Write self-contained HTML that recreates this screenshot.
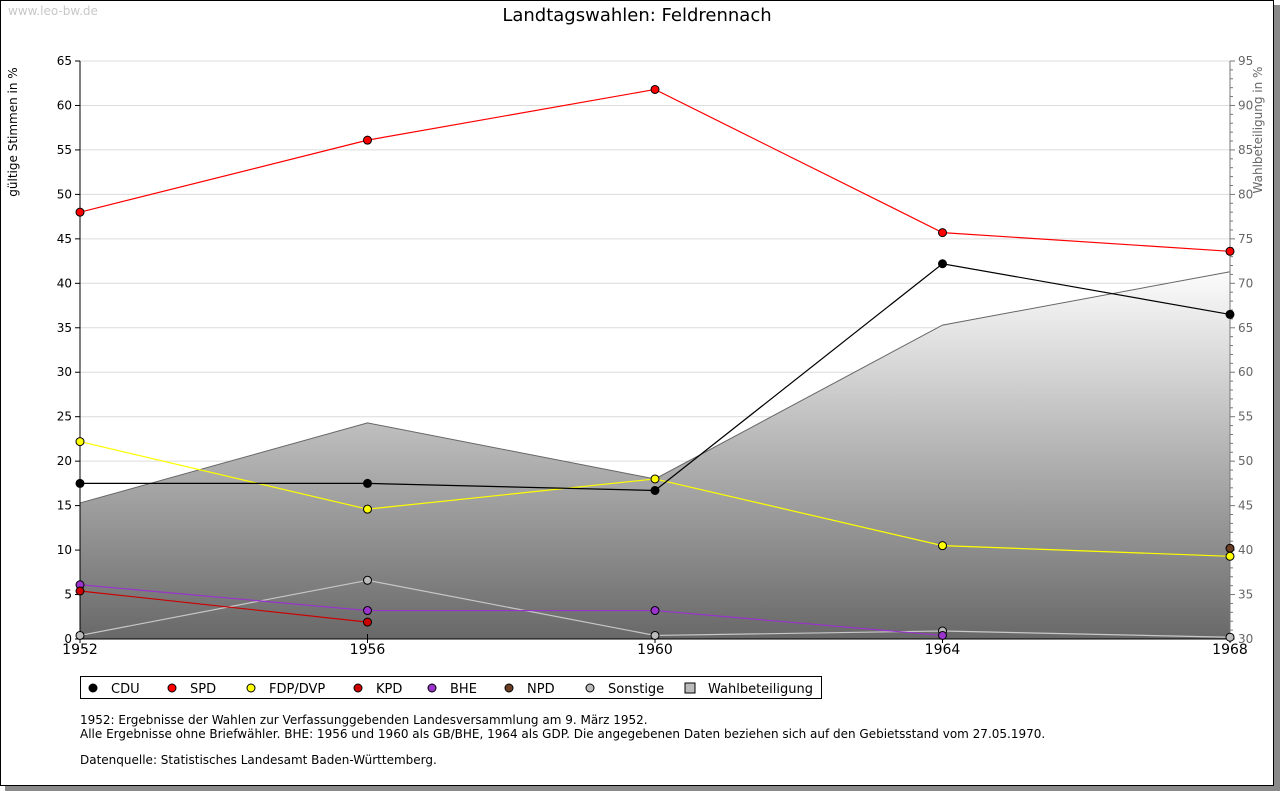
<!DOCTYPE html>
<html><head><meta charset="utf-8">
<style>
body{margin:0;background:#fff;font-family:"Liberation Sans","DejaVu Sans",sans-serif;}
#wrap{position:relative;width:1280px;height:791px;overflow:hidden;}
</style></head>
<body>
<div id="wrap">
<svg id="chart" width="1280" height="791" xmlns="http://www.w3.org/2000/svg" font-family="DejaVu Sans, Liberation Sans, sans-serif">
<defs>
<linearGradient id="turnGrad" gradientUnits="userSpaceOnUse" x1="0" y1="265" x2="0" y2="639">
<stop offset="0" stop-color="#ffffff"/><stop offset="1" stop-color="#686868"/>
</linearGradient>
</defs>
<rect x="5" y="5" width="1275" height="786" fill="#8a8a8a"/>
<rect x="0.5" y="0.5" width="1273" height="785" fill="#fff" stroke="#000"/>
<text x="8" y="15" font-size="12" fill="#c8c8c8">www.leo-bw.de</text>
<text x="637" y="21" font-size="18" text-anchor="middle" fill="#000">Landtagswahlen: Feldrennach</text>
<text transform="translate(17,132) rotate(-90)" font-size="12" text-anchor="middle" fill="#000">gültige Stimmen in %</text>
<text transform="translate(1262,130) rotate(-90)" font-size="12" text-anchor="middle" fill="#666">Wahlbeteiligung in %</text>
<g id="grid"></g>
<g id="area"></g>
<g id="axes"></g>
<g id="series"></g>
<g id="legend"></g>
<text x="80" y="724" font-size="12" fill="#000">1952: Ergebnisse der Wahlen zur Verfassunggebenden Landesversammlung am 9. März 1952.</text>
<text x="80" y="738" font-size="12" fill="#000">Alle Ergebnisse ohne Briefwähler. BHE: 1956 und 1960 als GB/BHE, 1964 als GDP. Die angegebenen Daten beziehen sich auf den Gebietsstand vom 27.05.1970.</text>
<text x="80" y="764" font-size="12" fill="#000">Datenquelle: Statistisches Landesamt Baden-Württemberg.</text>
</svg>
</div>
<script>
const years=[1952,1956,1960,1964,1968];
const leftTicks=[0,5,10,15,20,25,30,35,40,45,50,55,60,65];
const rightTicks=[30,35,40,45,50,55,60,65,70,75,80,85,90,95];
const cdu=[17.5,17.5,16.7,42.2,36.5];
const spd=[48.0,56.1,61.8,45.7,43.6];
const fdp=[22.2,14.6,18.0,10.5,9.3];
const kpd=[5.4,1.9,null,null,null];
const bhe=[6.1,3.2,3.2,0.4,null];
const npd=[null,null,null,null,10.2];
const sonstige=[0.4,6.6,0.4,0.9,0.2];
const turnout=[45.3,54.3,48.0,65.3,71.3];
const legendLabels=["CDU","SPD","FDP/DVP","KPD","BHE","NPD","Sonstige","Wahlbeteiligung"];

const NS="http://www.w3.org/2000/svg";
const X0=80,X1=1230,Y0=639,Y1=61;
const xs=y=>X0+(y-1952)/(1968-1952)*(X1-X0);
const yl=v=>Y0-v/65*(Y0-Y1);
const yr=v=>Y0-(v-30)/65*(Y0-Y1);
function mk(tag,attrs,parent){const e=document.createElementNS(NS,tag);for(const k in attrs)e.setAttribute(k,attrs[k]);parent.appendChild(e);return e;}
const grid=document.getElementById('grid'),axes=document.getElementById('axes'),area=document.getElementById('area'),ser=document.getElementById('series'),leg=document.getElementById('legend');

leftTicks.forEach(t=>{
  const y=yl(t);
  if(t>0){const g=mk('line',{x1:X0,x2:X1,y1:y,y2:y,stroke:'#dcdcdc'},grid);
  
  }
  mk('line',{x1:X0-5,x2:X0,y1:y,y2:y,stroke:'#000'},axes);
  const tx=mk('text',{x:X0-8,y:y+4,'font-size':12,'text-anchor':'end',fill:'#000'},axes);
  tx.textContent=t;
  
  
});
for(let v=30;v<=95;v++){const y=yr(v);mk('line',{x1:X1,x2:X1+(v%5?3:5),y1:y,y2:y,stroke:'#777'},axes);}
rightTicks.forEach(t=>{
  const tx=mk('text',{x:X1+8,y:yr(t)+4,'font-size':12,fill:'#666'},axes);
  tx.textContent=t;
  
  
});
// turnout area
let d='M'+xs(years[0])+','+Y0;
years.forEach((yy,i)=>{d+=' L'+xs(yy)+','+yr(turnout[i]);});
d+=' L'+xs(years[years.length-1])+','+Y0+' Z';
const ap=mk('path',{d:d,fill:'url(#turnGrad)'},area);


const al=mk('polyline',{points:years.map((yy,i)=>xs(yy)+','+yr(turnout[i])).join(' '),fill:'none',stroke:'#666'},area);



mk('line',{x1:X0,x2:X0,y1:Y1,y2:Y0,stroke:'#000'},axes);
mk('line',{x1:X1,x2:X1,y1:Y1,y2:Y0,stroke:'#777'},axes);
mk('line',{x1:X0,x2:X1,y1:Y0,y2:Y0,stroke:'#000'},axes);
years.forEach(yy=>{
  mk('line',{x1:xs(yy),x2:xs(yy),y1:Y0-5,y2:Y0+4,stroke:'#000'},axes);
  const tx=mk('text',{x:xs(yy),y:Y0+15,'font-size':14,'text-anchor':'middle',fill:'#000'},axes);
  tx.textContent=yy;
  
  
});

const seriesDefs=[
 ['sonstige',sonstige,'#c8c8c8','#bbbbbb'],
 ['bhe',bhe,'#9933cc','#9933cc'],
 ['kpd',kpd,'#cc0000','#cc0000'],
 ['npd',npd,'#6b3e26','#6b3e26'],
 ['fdp',fdp,'#ffff00','#ffff00'],
 ['cdu',cdu,'#000000','#000000'],
 ['spd',spd,'#ff0000','#ff0000']
];
seriesDefs.forEach(([name,vals,lc,fc])=>{
  const pts=[];vals.forEach((v,i)=>{if(v!==null)pts.push(xs(years[i])+','+yl(v));});
  if(pts.length>1){const pl=mk('polyline',{points:pts.join(' '),fill:'none',stroke:lc,'stroke-width':1.2},ser);
  
  }
  vals.forEach((v,i)=>{if(v===null)return;
    const c=mk('circle',{cx:xs(years[i]),cy:yl(v),r:4,fill:fc,stroke:'#000','stroke-width':1},ser);
    
    
  });
});

// legend
mk('rect',{x:80.5,y:676.5,width:741,height:22,fill:'#fff',stroke:'#000'},leg);
const lcols=['#000','#ff0000','#ffff00','#cc0000','#9933cc','#6b3e26','#bbbbbb'];
const lx=[93,172,251,358,432,509,590,690];
legendLabels.forEach((lab,i)=>{
  const g=mk('g',{},leg);
  
  
  if(i<7) mk('circle',{cx:lx[i],cy:688,r:4,fill:lcols[i],stroke:'#000'},g);
  else mk('rect',{x:lx[i]-5,y:683,width:10,height:10,fill:'#bbb',stroke:'#000'},g);
  const t=mk('text',{x:lx[i]+18,y:693,'font-size':13,fill:'#000'},g);
  t.textContent=lab;
});
</script>
</body></html>
